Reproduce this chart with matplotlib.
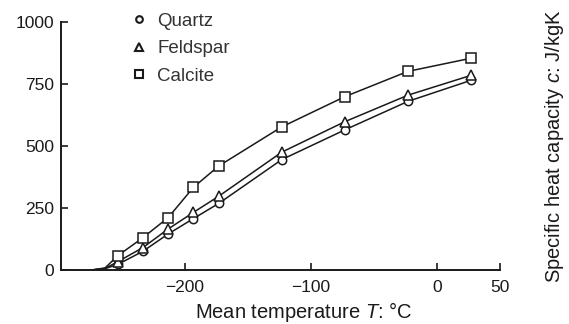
import matplotlib.pyplot as plt
from matplotlib.lines import Line2D

plt.rcParams['font.family'] = ['Liberation Sans', 'DejaVu Sans']
plt.rcParams['mathtext.fontset'] = 'custom'
plt.rcParams['mathtext.it'] = 'Liberation Sans:italic'
plt.rcParams['mathtext.rm'] = 'Liberation Sans'

# temperatures in °C (0, 10, 20, 40, 60, 80, 100, 150, 200, 250, 300 K)
temp_c = [-273, -263, -253, -233, -213, -193, -173, -123, -73, -23, 27]
quartz = [0, 5, 22, 75, 145, 207, 268, 445, 565, 680, 765]
feldspar = [0, 6, 33, 90, 165, 232, 297, 475, 598, 705, 785]
calcite = [0, 8, 57, 130, 211, 333, 419, 577, 699, 801, 854]

series = [
    ('Quartz', quartz, 'o', 6),
    ('Feldspar', feldspar, '^', 6.5),
    ('Calcite', calcite, 's', 7),
]

fig = plt.figure(figsize=(5.69, 3.24), dpi=100)
ax = fig.add_axes([0.107, 0.167, 0.772, 0.765])

ink = '#1a1a1a'
for name, vals, mk, ms in series:
    ax.plot(temp_c, vals, color=ink, lw=1.1, marker=mk, ms=ms,
            mfc='white', mec=ink, mew=1.1, markevery=list(range(2, len(temp_c))))

ax.set_xlim(-298, 50)
ax.set_ylim(0, 1000)
ax.set_xticks([-200, -100, 0, 50])
ax.set_xticklabels(['\u2212200', '\u2212100', '0', '50'])
ax.set_yticks([0, 250, 500, 750, 1000])
ax.tick_params(direction='in', length=5, width=1.2, colors=ink, labelsize=12.5)
ax.tick_params(axis='y', pad=5)
ax.tick_params(axis='x', pad=7)
for s in ['top', 'right']:
    ax.spines[s].set_visible(False)
for s in ['left', 'bottom']:
    ax.spines[s].set_linewidth(1.4)
    ax.spines[s].set_color(ink)

handles = [Line2D([], [], ls='none', marker=mk, ms=ms * 0.8, mfc='white', mec=ink, mew=1.5)
           for _, _, mk, ms in series]
ax.legend(handles, [s[0] for s in series], loc='upper left', bbox_to_anchor=(0.14, 1.068),
          frameon=False, fontsize=13.5, handletextpad=0.45, labelspacing=0.56,
          handlelength=1.0, borderaxespad=0, labelcolor='#333333')

fig.text(0.534, 0.037, 'Mean temperature $T$: °C', ha='center', va='center', fontsize=14.5, color=ink)
fig.text(0.975, 0.548, 'Specific heat capacity $c$: J/kgK', ha='center', va='center',
         rotation=90, fontsize=14.5, color=ink)

fig.savefig('out.png', dpi=100)
